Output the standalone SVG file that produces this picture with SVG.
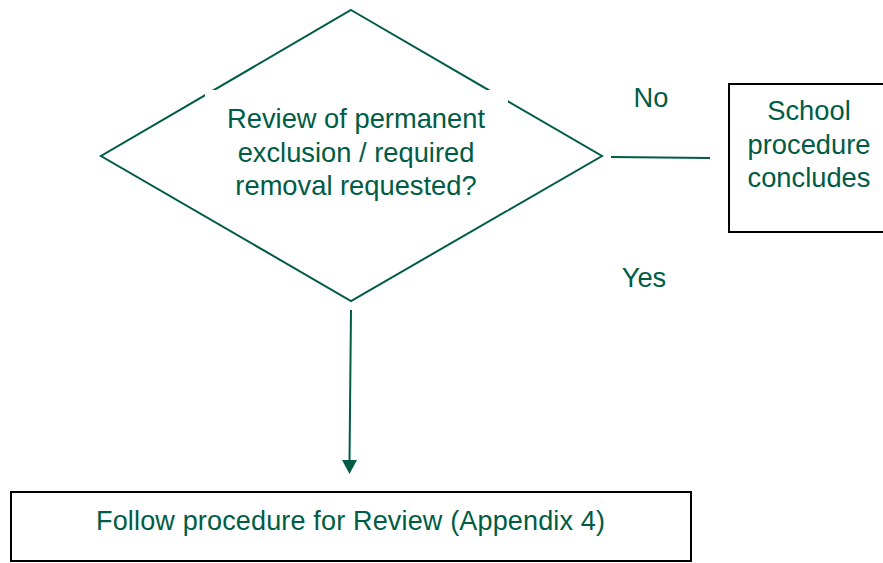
<svg xmlns="http://www.w3.org/2000/svg" width="883" height="563" viewBox="0 0 883 563">
<style>
.t{font-family:"Liberation Sans",Arial,sans-serif;fill:#005c45;font-size:27.3px;text-anchor:middle}
.g{stroke:#005c45;stroke-width:2;fill:none}
.b{stroke:#000;stroke-width:2;fill:#fff}
</style>
<rect width="883" height="563" fill="#fff"/>
<g id="decision">
<polygon class="g" points="351,10 602,156 351,301 101,156" fill="#fff"/>
<rect x="205" y="90" width="303" height="120" fill="#fff"/>
<text class="t" x="356" y="128">Review of permanent</text>
<text class="t" x="356" y="162">exclusion / required</text>
<text class="t" x="356" y="195">removal requested?</text>
</g>
<g id="concludes">
<rect class="b" x="729" y="84" width="160" height="148"/>
<text class="t" x="809" y="120">School</text>
<text class="t" x="809" y="154">procedure</text>
<text class="t" x="809" y="187">concludes</text>
</g>
<g id="review">
<rect class="b" x="11" y="492" width="680" height="69"/>
<text class="t" x="350.5" y="530" style="font-size:27px" textLength="509" lengthAdjust="spacing">Follow procedure for Review (Appendix 4)</text>
</g>
<g id="connectors">
<line class="g" x1="611" y1="157" x2="710" y2="158" stroke-width="1.5"/>
<line class="g" x1="351" y1="310" x2="349.5" y2="461" stroke-width="1.5"/>
<path d="M342,460 L357,460 L349.5,474 Z" fill="#005c45"/>
<text class="t" x="651" y="107">No</text>
<text class="t" x="644" y="287">Yes</text>
</g>
</svg>
